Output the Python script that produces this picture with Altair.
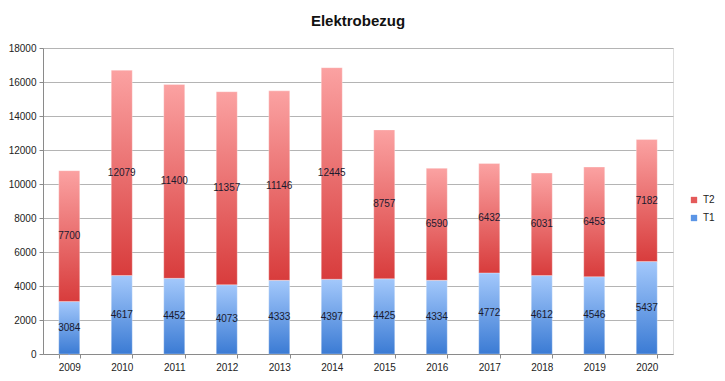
import altair as alt
import pandas as pd

years = ["2009", "2010", "2011", "2012", "2013", "2014", "2015", "2016", "2017", "2018", "2019", "2020"]
t1 = [3084, 4617, 4452, 4073, 4333, 4397, 4425, 4334, 4772, 4612, 4546, 5437]
t2 = [7700, 12079, 11400, 11357, 11146, 12445, 8757, 6590, 6432, 6031, 6453, 7182]
series = ["T2", "T1"]
series_colors = ["#e45a5a", "#5b95e6"]
y_ticks = [0, 2000, 4000, 6000, 8000, 10000, 12000, 14000, 16000, 18000]

df = pd.DataFrame({"year": years, "t1": t1, "t2": t2})
legend_df = pd.DataFrame({"series": series, "year": [years[0], years[0]], "v": [0, 0]})

FONT = "Liberation Sans"

blue_grad = alt.LinearGradient(
    gradient="linear", x1=0, y1=0, x2=0, y2=1,
    stops=[alt.GradientStop(color="#a3c8fb", offset=0),
           alt.GradientStop(color="#3b7bd4", offset=1)])
red_grad = alt.LinearGradient(
    gradient="linear", x1=0, y1=0, x2=0, y2=1,
    stops=[alt.GradientStop(color="#fba2a2", offset=0),
           alt.GradientStop(color="#d83c3c", offset=1)])

x_enc = alt.X("year:O", title=None,
              scale=alt.Scale(paddingInner=0.6, paddingOuter=0.3),
              axis=alt.Axis(labelAngle=0, tickBand="extent", tickSize=4,
                            domainColor="#8a8a8a", tickColor="#8a8a8a",
                            labelFontSize=10, labelColor="#222222", labelPadding=4,
                            grid=False, labelFont=FONT))
y_scale = alt.Scale(domain=[0, 18000], nice=False)
y_axis = alt.Axis(values=y_ticks, format="d", labelOverlap=False, title=None, tickSize=4,
                  domainColor="#8a8a8a", tickColor="#8a8a8a", gridColor="#b4b4b4",
                  labelFontSize=10, labelColor="#222222", labelPadding=3, labelFont=FONT)

base = alt.Chart(df).transform_calculate(
    total="datum.t1 + datum.t2",
    m1="datum.t1 / 2",
    m2="datum.t1 + datum.t2 / 2",
)

legend_layer = alt.Chart(legend_df).mark_square(size=4, opacity=1).encode(
    x=x_enc,
    y=alt.Y("v:Q", scale=y_scale, axis=y_axis),
    color=alt.Color("series:N", title=None,
                    scale=alt.Scale(domain=series, range=series_colors),
                    legend=alt.Legend(orient="none", legendX=646, legendY=147,
                                      symbolType="square", symbolSize=40,
                                      labelFontSize=10, labelFont=FONT,
                                      labelColor="#222222", rowPadding=8,
                                      symbolStrokeWidth=0)),
)

bar1 = base.mark_bar(fill=blue_grad, stroke="#ffffff", strokeOpacity=0.6, strokeWidth=0.5).encode(
    x=x_enc,
    y=alt.Y("t1:Q", scale=y_scale, axis=y_axis),
)
bar2 = base.mark_bar(fill=red_grad, stroke="#ffffff", strokeOpacity=0.6, strokeWidth=0.5).encode(
    x=x_enc,
    y=alt.Y("t1:Q", scale=y_scale, axis=y_axis),
    y2="total:Q",
)
lab1 = base.mark_text(fontSize=10, font=FONT, color="#1a1a2e").encode(
    x=x_enc, y=alt.Y("m1:Q", scale=y_scale, axis=y_axis), text="t1:Q")
lab2 = base.mark_text(fontSize=10, font=FONT, color="#1a1a2e").encode(
    x=x_enc, y=alt.Y("m2:Q", scale=y_scale, axis=y_axis), text="t2:Q")

chart = alt.layer(legend_layer, bar1, bar2, lab1, lab2).properties(
    width=630, height=306,
    autosize=alt.AutoSizeParams(type="none"),
    padding={"left": 35, "top": 40, "right": 44, "bottom": 19},
    title=alt.TitleParams("Elektrobezug", fontSize=15, font=FONT, fontWeight="bold",
                          color="#111111", anchor="middle", offset=14),
).configure_view(stroke=None).configure(background="#ffffff")

chart.save("out.html", embed_options={"renderer": "svg", "actions": False})
